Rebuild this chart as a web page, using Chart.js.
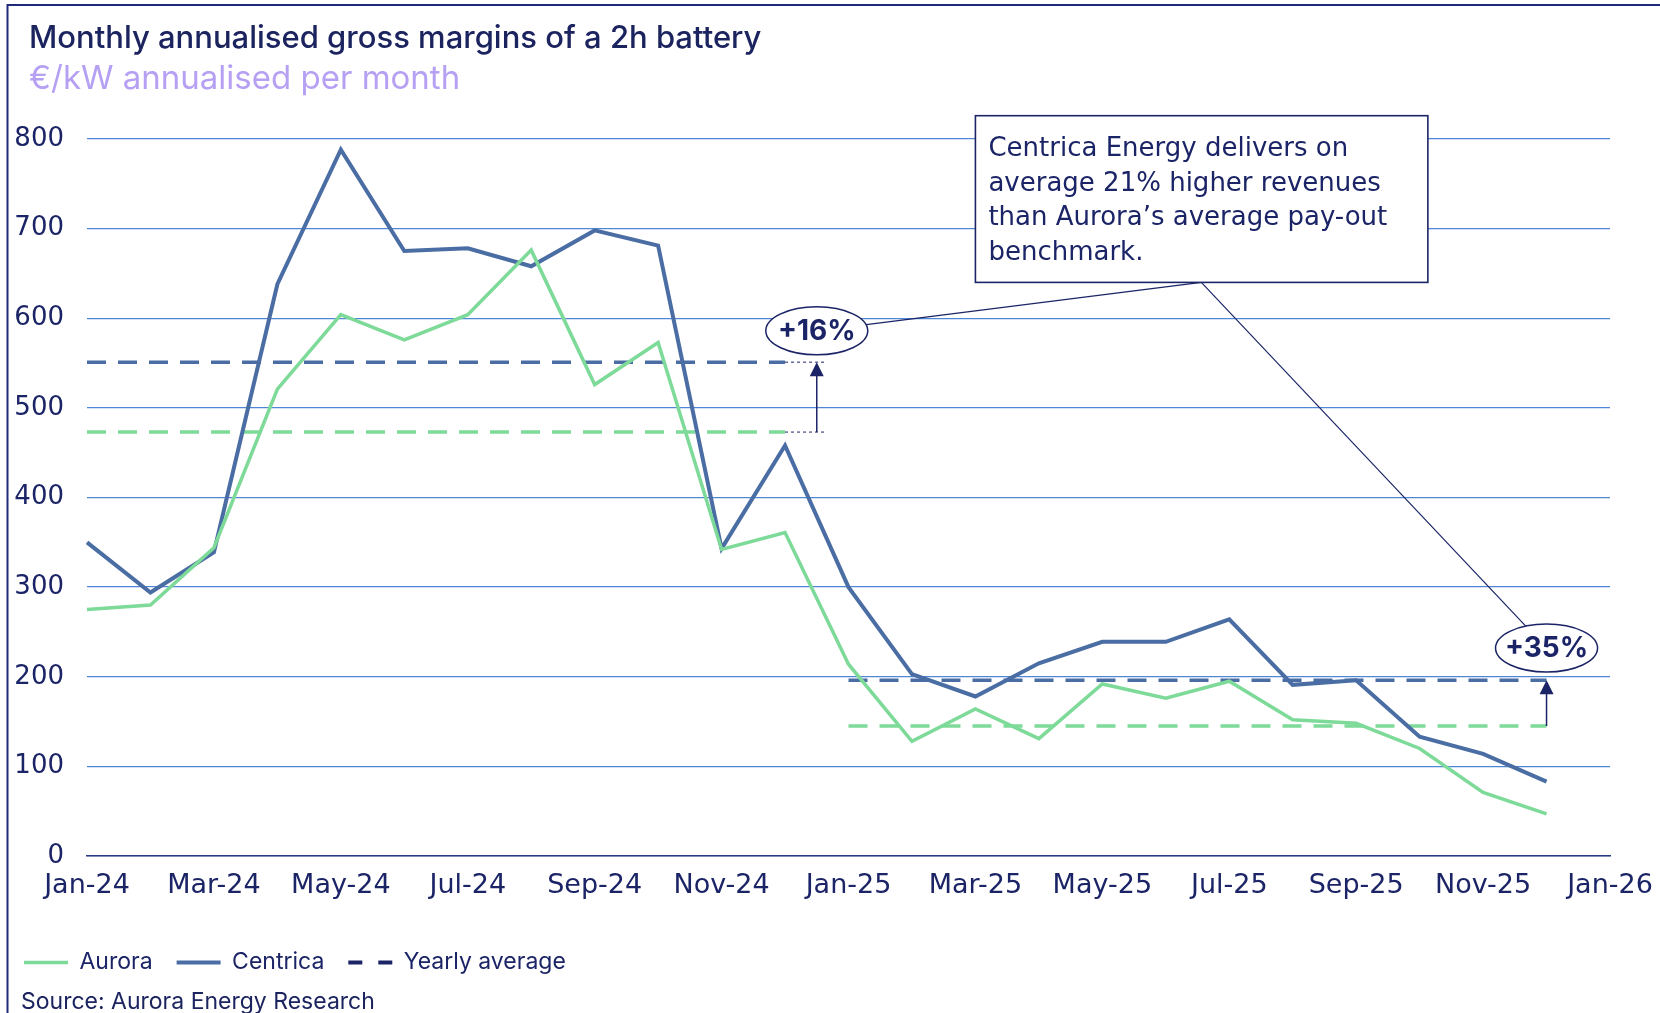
<!DOCTYPE html>
<html>
<head>
<meta charset="utf-8">
<script src="https://cdn.jsdelivr.net/npm/chart.js"></script>
<style>
  html, body { margin: 0; padding: 0; background: #fff; }
  #wrap { width: 1660px; height: 1013px; }
</style>
</head>
<body>
<div id="wrap"><canvas id="myChart_margins" width="1660" height="1013"></canvas></div>
<script>
// x axis: one slot per month, only every 2nd month gets a label
const months = ['Jan-24', 'Feb-24', 'Mar-24', 'Apr-24', 'May-24', 'Jun-24', 'Jul-24', 'Aug-24',
  'Sep-24', 'Oct-24', 'Nov-24', 'Dec-24', 'Jan-25', 'Feb-25', 'Mar-25', 'Apr-25', 'May-25',
  'Jun-25', 'Jul-25', 'Aug-25', 'Sep-25', 'Oct-25', 'Nov-25', 'Dec-25', 'Jan-26']

// monthly annualised gross margins, EUR/kW (Jan-24 .. Dec-25)
const aurora = [275, 280, 344, 521, 604, 576, 604, 676, 526, 573, 342, 361,
  214, 128, 164, 131, 192, 176, 195, 152, 148, 120, 71, 47]
const centrica = [350, 294, 339, 638, 788, 675, 678, 658, 698, 681, 343, 458,
  300, 203, 178, 215, 239, 239, 264, 191, 196, 133, 114, 83]

// yearly averages
const years = ['24', '25']
const auroraAvg = [473, 145]
const centricaAvg = [551, 196]
const uplift = ['+16%', '+35%']

const yTicks = [0, 100, 200, 300, 400, 500, 600, 700, 800]

const noteLines = [
  'Centrica Energy delivers on',
  'average 21% higher revenues',
  'than Aurora\u2019s average pay-out',
  'benchmark.'
]

const navy = '#1b2466'
const green = '#7dda98'
const steel = '#4a6da3'

// dashed average line for one year: value on that year's months, gaps elsewhere
function yearLine(avg, yr, n) {
  return months.map((m, i) => (i < n && m.endsWith('-' + yr)) ? avg : null)
}

const datasets = [
  { label: 'Aurora', data: aurora, borderColor: green, borderWidth: 3.5 },
  { label: 'Centrica', data: centrica, borderColor: steel, borderWidth: 4 },
  { label: 'Yearly average', data: [], borderColor: navy, borderWidth: 4, borderDash: [14, 16] }
]
years.forEach((yr, k) => {
  datasets.push({ label: 'Aurora avg ' + yr, data: yearLine(auroraAvg[k], yr, aurora.length),
    borderColor: green, borderWidth: 3.5, borderDash: [19, 12], inLegend: false })
  datasets.push({ label: 'Centrica avg ' + yr, data: yearLine(centricaAvg[k], yr, centrica.length),
    borderColor: steel, borderWidth: 3.5, borderDash: [19, 12], inLegend: false })
})

// frame, titles, source and the annotation callouts
const decor = {
  id: 'decor',
  afterDraw(chart) {
    const ctx = chart.ctx
    ctx.save()
    ctx.strokeStyle = '#1f2b7a'
    ctx.lineWidth = 2
    ctx.beginPath()
    ctx.moveTo(7.5, 1013); ctx.lineTo(7.5, 5); ctx.lineTo(1660, 5)
    ctx.stroke()

    ctx.textAlign = 'left'
    ctx.textBaseline = 'alphabetic'
    ctx.fillStyle = '#1c2460'
    ctx.font = '500 31px Inter'
    ctx.fillText('Monthly annualised gross margins of a 2h battery', 29, 48)
    ctx.fillStyle = '#b6a0f4'
    ctx.font = '400 33px Inter'
    ctx.fillText('\u20ac/kW annualised per month', 29, 89)
    ctx.fillStyle = '#1c2460'
    ctx.font = '400 23px Inter'
    ctx.fillText('Source: Aurora Energy Research', 21, 1009)
    ctx.restore()
  },
  afterDatasetsDraw(chart) {
    const ctx = chart.ctx
    const x = chart.scales.x, y = chart.scales.y
    const px = v => x.getPixelForValue(v)
    const py = v => y.getPixelForValue(v)
    ctx.save()
    ctx.strokeStyle = navy
    ctx.fillStyle = navy

    // dotted helpers at the end of 2024 averages
    ctx.lineWidth = 1
    ctx.setLineDash([3, 3])
    ;[auroraAvg[0], centricaAvg[0]].forEach(v => {
      ctx.beginPath(); ctx.moveTo(px(11), py(v)); ctx.lineTo(px(11.62), py(v)); ctx.stroke()
    })
    ctx.setLineDash([])

    // arrows from Aurora average up to Centrica average
    const arrowX = [11.5, 23]
    arrowX.forEach((ax, k) => {
      const xx = px(ax), yb = py(auroraAvg[k]), yt = py(centricaAvg[k])
      ctx.lineWidth = 1.5
      ctx.beginPath(); ctx.moveTo(xx, yb); ctx.lineTo(xx, yt + 12); ctx.stroke()
      ctx.beginPath(); ctx.moveTo(xx, yt); ctx.lineTo(xx - 7, yt + 14); ctx.lineTo(xx + 7, yt + 14)
      ctx.closePath(); ctx.fill()
    })

    // connectors from the text box to both badges
    const badgeAt = [[11.5, 586], [23, 232]]
    const hub = [px(17.56), py(640)]
    ctx.lineWidth = 1.2
    badgeAt.forEach(b => {
      ctx.beginPath(); ctx.moveTo(hub[0], hub[1]); ctx.lineTo(px(b[0]), py(b[1])); ctx.stroke()
    })

    // text box
    const bx = px(14), by = py(826), bw = px(21.13) - bx, bh = py(640) - by
    ctx.fillStyle = '#fff'
    ctx.fillRect(bx, by, bw, bh)
    ctx.lineWidth = 1.6
    ctx.strokeRect(bx, by, bw, bh)
    ctx.fillStyle = navy
    ctx.font = '26px "DejaVu Sans"'
    ctx.textAlign = 'left'
    ctx.textBaseline = 'middle'
    noteLines.forEach((t, i) => ctx.fillText(t, bx + 13, by + 34 + i * 34.5))

    // uplift badges
    badgeAt.forEach((b, k) => {
      const cx = px(b[0]), cy = py(b[1])
      ctx.beginPath()
      ctx.ellipse(cx, cy, 51, 24, 0, 0, Math.PI * 2)
      ctx.fillStyle = '#fff'; ctx.fill()
      ctx.lineWidth = 1.5; ctx.stroke()
      ctx.fillStyle = navy
      ctx.font = 'bold 28px Inter'
      ctx.textAlign = 'center'
      ctx.fillText(uplift[k], cx, cy + 1)
    })
    ctx.restore()
  }
}

const config_margins = {
  type: 'line',
  data: { labels: months, datasets: datasets },
  options: {
    responsive: false,
    animation: false,
    devicePixelRatio: 1,
    events: [],
    elements: { point: { radius: 0 }, line: { tension: 0, borderCapStyle: 'butt' } },
    layout: { padding: { left: 0, right: 50, top: 139, bottom: 29 } },
    scales: {
      x: {
        type: 'category',
        offset: false,
        grid: { display: false, drawTicks: false },
        border: { display: true, color: '#2b3a80', width: 1.6 },
        ticks: {
          autoSkip: false, maxRotation: 0, padding: 14,
          color: navy, font: { family: 'DejaVu Sans', size: 27 },
          callback: (v, i) => i % 2 === 0 ? months[i] : ''
        },
        afterFit: s => { s.height = 71; s.paddingLeft = 0; s.paddingRight = 0 }
      },
      y: {
        min: yTicks[0], max: yTicks[yTicks.length - 1],
        grid: { color: '#4f86d6', lineWidth: 1.3, drawTicks: false },
        border: { display: false },
        ticks: {
          stepSize: 100, padding: 23,
          color: navy, font: { family: 'DejaVu Sans', size: 26 }
        },
        afterFit: s => { s.width = 87 }
      }
    },
    plugins: {
      title: { display: false },
      tooltip: { enabled: false },
      legend: {
        display: true,
        position: 'bottom',
        align: 'start',
        labels: {
          usePointStyle: true,
          pointStyleWidth: 44,
          padding: 24,
          color: navy,
          font: { family: 'Inter', size: 23 },
          generateLabels: chart => chart.data.datasets
            .map((ds, i) => ({
              text: ds.label, datasetIndex: i, hidden: false,
              fillStyle: ds.borderColor, strokeStyle: ds.borderColor,
              lineWidth: ds.borderWidth, lineDash: ds.borderDash || [],
              pointStyle: 'line', fontColor: navy, inLegend: ds.inLegend
            }))
            .filter(item => item.inLegend !== false)
        }
      }
    }
  },
  plugins: [decor]
}

const lineChart_margins = new Chart(
  document.getElementById('myChart_margins'),
  config_margins
)
</script>
</body>
</html>
